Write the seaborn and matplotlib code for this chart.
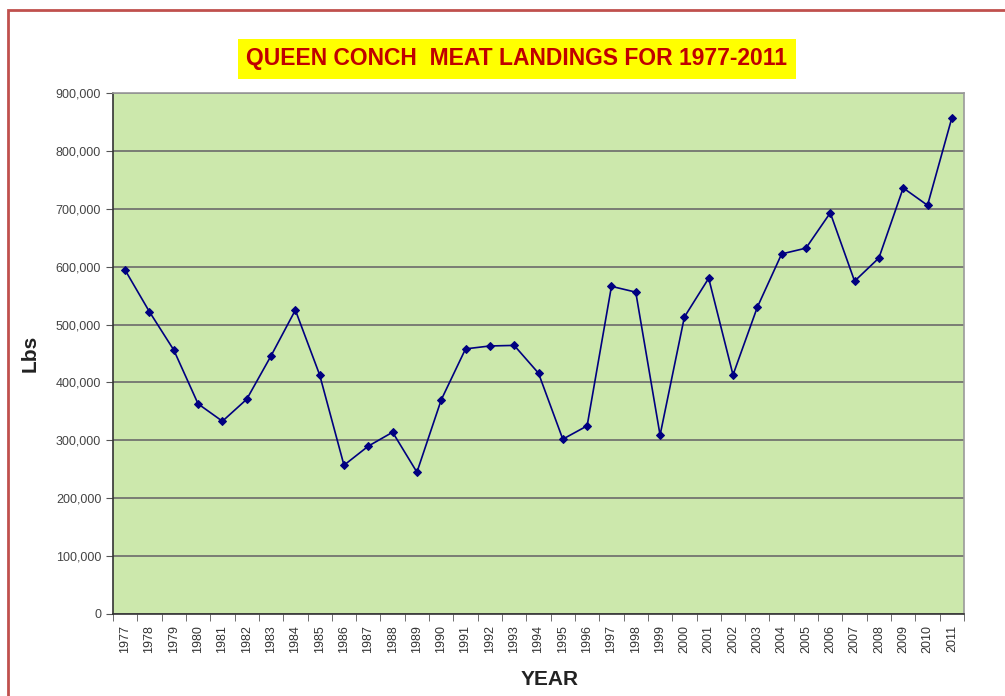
import pandas as pd
import numpy as np
import matplotlib.pyplot as plt
import seaborn as sns
from matplotlib.patches import Rectangle
from matplotlib.ticker import FuncFormatter, FixedLocator

years = [str(y) for y in range(1977, 2012)]
landings = [594000, 522000, 456000, 363000, 333000, 371000, 446000, 525000, 413000, 257000,
            290000, 314000, 245000, 370000, 458000, 463000, 464000, 416000, 302000, 325000,
            566000, 556000, 309000, 513000, 580000, 413000, 530000, 622000, 632000, 693000,
            575000, 615000, 736000, 706000, 857000]

df = pd.DataFrame({"YEAR": years, "Lbs": landings})
df["pos"] = np.arange(len(df))

sns.set_style("white")
plt.rcParams['font.family'] = ['Liberation Sans', 'DejaVu Sans']

fig = plt.figure(figsize=(10.05, 6.96), dpi=100)
ax = fig.add_axes([113 / 1005, 1 - 614 / 696, (964 - 113) / 1005, (614 - 93) / 696])
ax.set_facecolor("#CCE8AC")

# red frame around the chart area
fig.patches.append(Rectangle((8 / 1005, -0.05), 1.1, 1 - 10 / 696 + 0.05, transform=fig.transFigure,
                             fill=False, edgecolor="#C0504D", linewidth=2, zorder=0))

sns.lineplot(data=df, x="pos", y="Lbs", ax=ax, color="#000080", linewidth=1.2,
             marker="D", markersize=4.5, markeredgecolor="#000080")

ax.set_xlim(-0.5, len(years) - 0.5)
ax.set_ylim(0, 900000)
ax.set_yticks(np.arange(0, 900001, 100000))
ax.yaxis.set_major_formatter(FuncFormatter(lambda v, p: f"{int(v):,}"))
ax.grid(axis="y", color="#6B6B6B", linewidth=1.2)
ax.set_axisbelow(True)

ax.set_xticks(df["pos"])
ax.set_xticklabels(years, rotation=90)
ax.xaxis.set_minor_locator(FixedLocator(np.arange(-0.5, len(years), 1.0)))
ax.tick_params(axis="x", which="major", length=0, pad=8, labelsize=9, labelcolor="#333333")
ax.tick_params(axis="x", which="minor", length=5, color="#555555", direction="out", bottom=True)
ax.tick_params(axis="y", length=5, color="#555555", direction="out", left=True,
               labelsize=9, labelcolor="#444444")

for side in ["left", "bottom"]:
    ax.spines[side].set_color("#333333")
    ax.spines[side].set_linewidth(1.2)
for side in ["top", "right"]:
    ax.spines[side].set_color("#9A9A9A")
    ax.spines[side].set_linewidth(1.2)

ax.set_xlabel("YEAR", fontsize=15, fontweight="bold", color="#222222")
ax.set_ylabel("Lbs", fontsize=15, fontweight="bold", color="#222222", labelpad=12)
ax.xaxis.set_label_coords((550 - 113) / (964 - 113), -(670 - 614) / (614 - 93))

fig.text(517 / 1005, 1 - 59 / 696, "QUEEN CONCH  MEAT LANDINGS FOR 1977-2011",
         ha="center", va="center", fontsize=16.5, fontweight="bold", color="#C00000",
         bbox=dict(facecolor="#FFFF00", edgecolor="none", pad=6))

fig.savefig("out.png", dpi=100)
